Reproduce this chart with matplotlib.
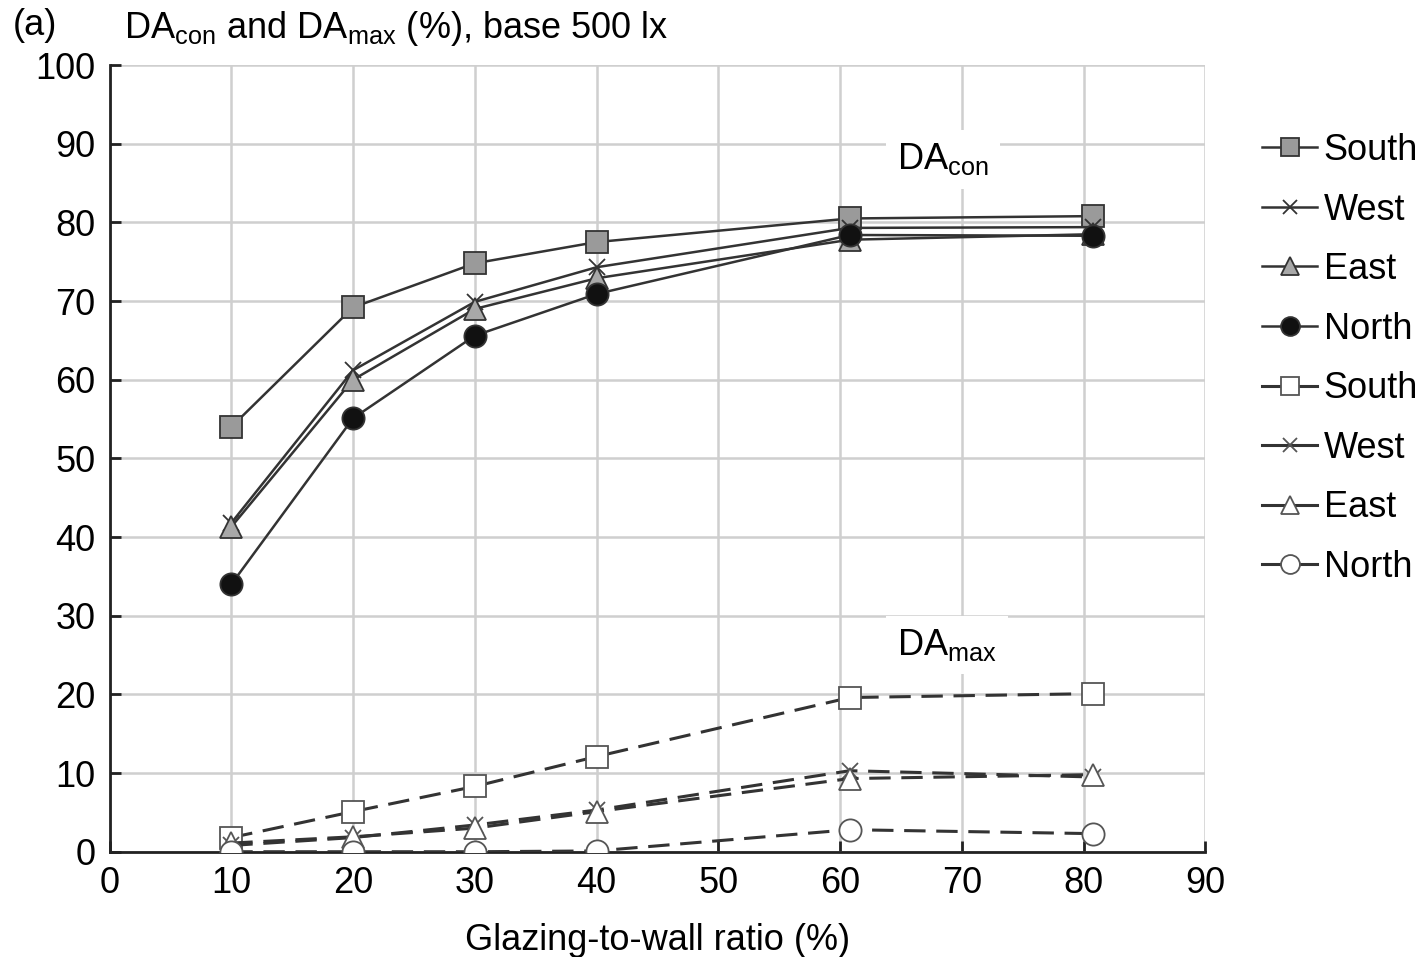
import matplotlib.pyplot as plt
import numpy as np

plt.rcParams['font.family'] = ['Liberation Sans', 'DejaVu Sans']

# glazing-to-wall ratio (%) as plotted (last two points sit a bit right of 60/80)
gwr = [10, 20, 30, 40, 60.8, 80.8]

# DAcon (%)
con_south = [54.0, 69.2, 74.8, 77.5, 80.5, 80.8]
con_west = [41.8, 61.2, 69.9, 74.3, 79.3, 79.4]
con_east = [41.3, 60.0, 69.0, 72.9, 77.8, 78.5]
con_north = [34.0, 55.1, 65.6, 70.9, 78.4, 78.3]

# DAmax (%)
max_south = [1.8, 5.1, 8.3, 12.1, 19.6, 20.1]
max_west = [0.8, 1.8, 3.4, 5.3, 10.3, 9.5]
max_east = [1.1, 1.9, 3.0, 5.1, 9.3, 9.8]
max_north = [0.0, 0.0, 0.0, 0.1, 2.8, 2.3]

labels = ['South', 'West', 'East', 'North']
markers = ['s', 'x', '^', 'o']
con_fill = ['#9a9a9a', '#555555', '#a8a8a8', '#111111']
max_fill = ['white', '#555555', 'white', 'white']

fig = plt.figure(figsize=(14.23, 9.57), dpi=100)
ax = fig.add_axes([0.077, 0.110, 0.770, 0.822])

line_col = '#333333'
fs = 26

for i, ys in enumerate([con_south, con_west, con_east, con_north]):
    ms = 12 if markers[i] == 'x' else 16
    ax.plot(gwr, ys, color=line_col, lw=1.8, marker=markers[i], ms=ms,
            mfc=con_fill[i], mec='#333333', mew=1.3, label=labels[i], zorder=3)

for i, ys in enumerate([max_south, max_west, max_east, max_north]):
    ms = 12 if markers[i] == 'x' else 16
    ax.plot(gwr, ys, color=line_col, lw=2.2, ls=(0, (7, 3.5)), marker=markers[i], ms=ms,
            mfc=max_fill[i], mec='#555555', mew=1.3, label=labels[i], zorder=3)

ax.set_xlim(0, 90)
ax.set_ylim(0, 100)
ax.set_xticks(np.arange(0, 91, 10))
ax.set_yticks(np.arange(0, 101, 10))
ax.grid(True, color='#cfcfcf', lw=1.8, zorder=0)
ax.set_axisbelow(True)
for s in ['top', 'right']:
    ax.spines[s].set_visible(False)
for s in ['left', 'bottom']:
    ax.spines[s].set_linewidth(2)
    ax.spines[s].set_color('#222222')
ax.tick_params(direction='in', length=8, width=2, labelsize=fs, color='#222222', pad=10)

ax.text(64.7, 88, 'DA$_{\\mathregular{con}}$', fontsize=fs, va='center', ha='left',
        bbox=dict(facecolor='white', edgecolor='none', pad=8), zorder=2)
ax.text(64.7, 26.3, 'DA$_{\\mathregular{max}}$', fontsize=fs, va='center', ha='left',
        bbox=dict(facecolor='white', edgecolor='none', pad=8), zorder=2)

ax.set_xlabel('Glazing-to-wall ratio (%)', fontsize=fs, labelpad=16)

fig.text(0.009, 0.973, '(a)', fontsize=fs, va='center')
fig.text(0.087, 0.970, 'DA$_{\\mathregular{con}}$ and DA$_{\\mathregular{max}}$ (%), base 500 lx',
         fontsize=fs, va='center')

leg = ax.legend(loc='upper left', bbox_to_anchor=(1.039, 0.932), frameon=False, fontsize=fs,
                handlelength=1.5, handletextpad=0.2, labelspacing=0.68, borderaxespad=0,
                markerscale=0.85)
for h in leg.legend_handles:
    h.set_linestyle('-')

fig.savefig('out.png', dpi=100)
